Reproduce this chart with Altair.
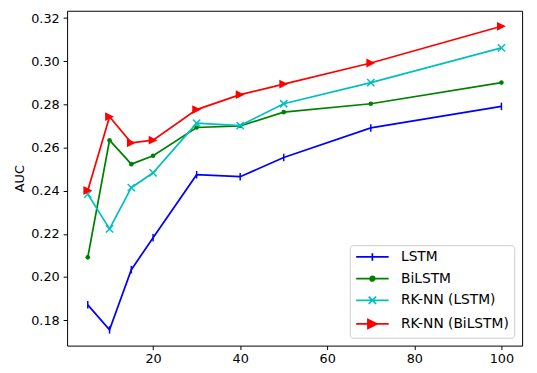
import altair as alt
import pandas as pd

x_vals = [5, 10, 15, 20, 30, 40, 50, 70, 100]
lstm = [0.1871, 0.1755, 0.2034, 0.2182, 0.2474, 0.2465, 0.2554, 0.2691, 0.2791]
bilstm = [0.2091, 0.2634, 0.2523, 0.2562, 0.2693, 0.2700, 0.2764, 0.2803, 0.2901]
rknn_lstm = [0.2384, 0.2223, 0.2414, 0.2483, 0.2713, 0.2702, 0.2803, 0.2901, 0.3062]
rknn_bilstm = [0.2401, 0.2743, 0.2622, 0.2634, 0.2776, 0.2845, 0.2894, 0.2992, 0.3162]

series_names = ["LSTM", "BiLSTM", "RK-NN (LSTM)", "RK-NN (BiLSTM)"]
series_values = [lstm, bilstm, rknn_lstm, rknn_bilstm]
colors = ["#0000ff", "#008000", "#00bfbf", "#ff0000"]

x_ticks = [20, 40, 60, 80, 100]
y_ticks = [0.18, 0.20, 0.22, 0.24, 0.26, 0.28, 0.30, 0.32]

# marker shapes for plotted points
marker_paths = [
    "M0,-1L0,1",
    "circle",
    "M-1,-1L1,1M-1,1L1,-1",
    "M-1,-1L1,0L-1,1Z",
]
marker_sizes = [58, 22, 54, 80]
marker_filled = [False, True, False, True]

# legend handles: line segment with marker in the middle
legend_paths = [
    "M-1,0L5,0M2,-0.7L2,0.7",
    "M-1,0L5,0M2.42,0A0.42,0.42 0 1,1 1.58,0A0.42,0.42 0 1,1 2.42,0Z",
    "M-1,0L5,0M1.32,-0.68L2.68,0.68M1.32,0.68L2.68,-0.68",
    "M-1,0L5,0M1.18,-0.82L2.82,0L1.18,0.82Z",
]

rows = []
for name, vals in zip(series_names, series_values):
    for xv, yv in zip(x_vals, vals):
        rows.append({"x": xv, "auc": yv, "series": name})
df = pd.DataFrame(rows)

FONT = "DejaVu Sans"

x_enc = alt.X(
    "x:Q",
    scale=alt.Scale(domain=[0.25, 104.75], nice=False, zero=False),
    axis=alt.Axis(values=x_ticks, format="d", title=None),
)
y_enc = alt.Y(
    "auc:Q",
    scale=alt.Scale(domain=[0.1682, 0.3234], nice=False, zero=False),
    axis=alt.Axis(values=y_ticks, format=".2f", title="AUC"),
)
# same mapping, listed in reverse so this (legend-less) scale is not merged with the legend one
color_enc = alt.Color(
    "series:N",
    scale=alt.Scale(domain=series_names[::-1], range=colors[::-1]),
    legend=None,
)

base = alt.Chart(df)
layers = []
for i, name in enumerate(series_names):
    sub = base.transform_filter(alt.datum.series == name)
    layers.append(sub.mark_line(strokeWidth=1.75).encode(x=x_enc, y=y_enc, color=color_enc))
    layers.append(
        sub.mark_point(
            shape=marker_paths[i],
            size=marker_sizes[i],
            filled=marker_filled[i],
            strokeWidth=1.5,
            opacity=1,
        ).encode(x=x_enc, y=y_enc, color=color_enc)
    )

leg_props = dict(
    title=None,
    orient="bottom-right",
    offset=8,
    padding=5,
    strokeColor="#cccccc",
    fillColor="white",
    cornerRadius=3,
    labelFont=FONT,
    labelFontSize=14,
    labelColor="black",
    symbolSize=121,
    symbolStrokeWidth=1.75,
    symbolOpacity=1,
    labelOffset=33,
    rowPadding=7,
)

legend_layer = base.mark_point(filled=True, size=0, strokeWidth=0).encode(
    x=x_enc,
    y=y_enc,
    fill=alt.Fill("series:N", scale=alt.Scale(domain=series_names, range=colors), legend=alt.Legend(**leg_props)),
    stroke=alt.Stroke("series:N", scale=alt.Scale(domain=series_names, range=colors), legend=alt.Legend(**leg_props)),
    shape=alt.Shape("series:N", scale=alt.Scale(domain=series_names, range=legend_paths), legend=alt.Legend(**leg_props)),
)

chart = (
    alt.layer(*layers, legend_layer)
    .properties(
        width=462,
        height=340,
        autosize=alt.AutoSizeParams(type="none"),
        padding={"left": 60, "top": 0, "right": 7, "bottom": 25},
    )
    .configure(font=FONT)
    .configure_view(stroke="black", strokeWidth=1)
    .configure_legend(labelFont=FONT, labelFontSize=14, labelColor="black")
    .configure_axis(
        labelFont=FONT,
        labelFontSize=13,
        labelColor="black",
        titleFont=FONT,
        titleFontSize=13,
        titleFontWeight="normal",
        titleColor="black",
        tickColor="black",
        tickSize=4,
        tickWidth=1,
        domain=False,
        grid=False,
    )
    .configure_axisX(labelPadding=3)
    .configure_axisY(labelPadding=4, titlePadding=4)
)

chart.save("out.html", embed_options={"renderer": "svg", "actions": False})
